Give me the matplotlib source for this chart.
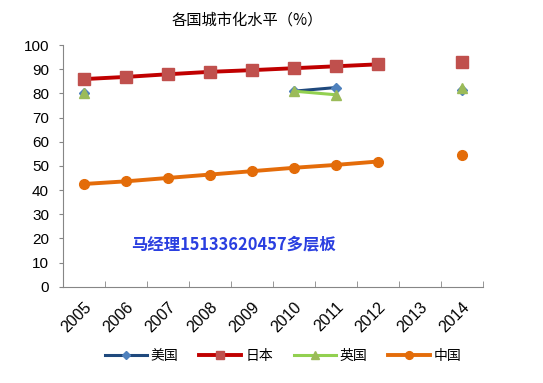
import numpy as np
from matplotlib import pyplot as plt

plt.rcParams['font.family'] = ['Liberation Sans', 'Noto Sans CJK SC', 'DejaVu Sans']

nan = np.nan
years = ['2005', '2006', '2007', '2008', '2009', '2010', '2011', '2012', '2013', '2014']
meiguo = [80.0, nan, nan, nan, nan, 80.9, 82.4, nan, nan, 81.5]
riben = [85.9, 86.8, 87.9, 88.9, 89.6, 90.4, 91.2, 92.0, nan, 93.0]
yingguo = [80.0, nan, nan, nan, nan, 80.9, 79.4, nan, nan, 82.2]
zhongguo = [42.5, 43.6, 45.0, 46.4, 47.8, 49.2, 50.4, 51.8, nan, 54.4]

series = [
    ('美国', meiguo, '#1f497d', '#4f81bd', 'D', 5.5, 2.2),
    ('日本', riben, '#c00000', '#c0504d', 's', 8, 2.8),
    ('英国', yingguo, '#92d050', '#9bbb59', '^', 7.5, 2.2),
    ('中国', zhongguo, '#e46c0a', '#e36c09', 'o', 7, 2.8),
]

fig = plt.figure(figsize=(5.43, 3.83), dpi=100)
ax = fig.add_axes([0.116, 0.2514, 0.7735, 0.6311])

x = np.arange(len(years))
for nome, vals, cor_linha, cor_marca, marca, tam, lw in series:
    ax.plot(x, vals, color=cor_linha, lw=lw, marker=marca, markersize=tam,
            markerfacecolor=cor_marca, markeredgecolor=cor_marca, label=nome)

ax.set_xlim(-0.5, len(years) - 0.5)
ax.set_ylim(0, 100)
ax.set_yticks(range(0, 101, 10))
ax.tick_params(axis='y', direction='out', length=3, color='#868686', labelsize=11, pad=7)

ax.set_xticks(x)
ax.set_xticklabels(years, rotation=45, ha='right', rotation_mode='anchor', fontsize=11.5)
ax.tick_params(axis='x', which='major', length=0, pad=9)
ax.set_xticks(np.arange(-0.5, len(years)), minor=True)
ax.tick_params(axis='x', which='minor', direction='in', length=4, color='#868686')

for lado in ['top', 'right']:
    ax.spines[lado].set_visible(False)
for lado in ['left', 'bottom']:
    ax.spines[lado].set_color('#868686')

fig.text(0.455, 0.948, '各国城市化水平（%）', ha='center', va='center', fontsize=11,
         family=['Noto Sans CJK SC', 'DejaVu Sans'])

ax.text(233 / 543, 1 - 244 / 383, '马经理15133620457多层板', transform=fig.transFigure,
        ha='center', va='center', fontsize=11.8, fontweight='bold', color='#2a3fe0',
        family=['Noto Sans CJK SC', 'DejaVu Sans'])

fig.legend(loc='center', bbox_to_anchor=(0.522, 1 - 356 / 383), ncol=4, frameon=False,
           handlelength=3.0, handletextpad=0.3, columnspacing=1.5, markerscale=0.8,
           prop={'family': ['Noto Sans CJK SC', 'DejaVu Sans'], 'size': 10})

fig.savefig('out.png', dpi=100)
